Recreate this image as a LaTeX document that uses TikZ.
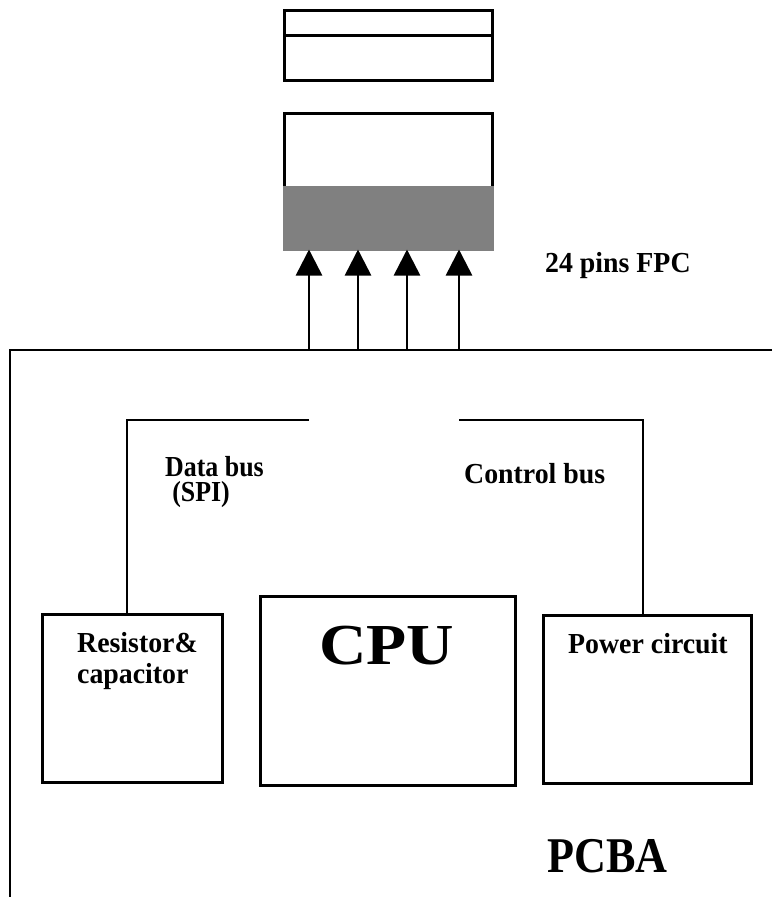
\documentclass[tikz,border=0pt]{standalone}
\usepackage{fontspec}
\setmainfont{Liberation Serif}
\usetikzlibrary{arrows.meta}
\definecolor{fpcgray}{HTML}{808080}
\begin{document}
\begin{tikzpicture}[x=1pt,y=-1pt,
  box/.style={draw, line width=3pt, inner sep=0pt, outer sep=0pt},
  wire/.style={line width=2.6pt},
  lbl/.style={font=\bfseries\fontsize{29}{31}\selectfont, inner sep=0pt, anchor=base west, xscale=0.96},
  pinarrow/.style={wire, -{Triangle[length=26pt,width=26pt]}}]
\useasboundingbox (0,0) rectangle (772,897);
% FPC connector parts
\node[box, minimum width=208, minimum height=25] (lid) at (388,22.5) {};
\node[box, minimum width=208, minimum height=45] (cover) at (388,57.5) {};
\node[box, minimum width=208, minimum height=136] (conn) at (388,181.5) {};
\fill[fpcgray] (282.5,186) rectangle (493.5,251);
% PCBA outline
\coordinate (pr) at (772,350);
\coordinate (pc) at (10,350);
\coordinate (pb) at (10,897);
\draw[wire] (pr) -- (pc) -- (pb);
% pins
\foreach \i/\x in {1/309,2/358,3/407,4/459}{
  \coordinate (p\i) at (\x,350);
  \draw[pinarrow] (p\i) -- (p\i |- conn.south);
}
% blocks
\node[box, minimum width=180, minimum height=168] (rc) at (132,698) {};
\node[box, minimum width=255, minimum height=189] (cpu) at (387.5,690.5) {};
\node[box, minimum width=208, minimum height=168] (pw) at (647,699) {};
% buses
\coordinate (db) at (309,420);
\coordinate (dbc) at (127,420);
\draw[wire] (db) -- (dbc) -- (dbc |- rc.north);
\coordinate (cb) at (459,420);
\coordinate (cbc) at (643,420);
\draw[wire] (cb) -- (cbc) -- (cbc |- pw.north);
% labels
\node[lbl] (fpc) at (545,272) {24 pins FPC};
\node[lbl, xscale=0.93] (dbl) at (165,476)
  {\begin{tabular}[t]{@{}l@{}}Data bus\\[-6pt]\hspace*{8pt}(SPI)\end{tabular}};
\node[lbl] (cbl) at (464,483) {Control bus};
\node[lbl] (rcl) at (77,652)
  {\begin{tabular}[t]{@{}l@{}}Resistor\&\\capacitor\end{tabular}};
\node[lbl] (pwl) at (568,653) {Power circuit};
\node[lbl, font=\bfseries\fontsize{58}{60}\selectfont, xscale=1.18] (cpul) at (319,664) {CPU};
\node[lbl, font=\bfseries\fontsize{50}{52}\selectfont, xscale=0.92] (pcba) at (547,872) {PCBA};
\end{tikzpicture}
\end{document}
